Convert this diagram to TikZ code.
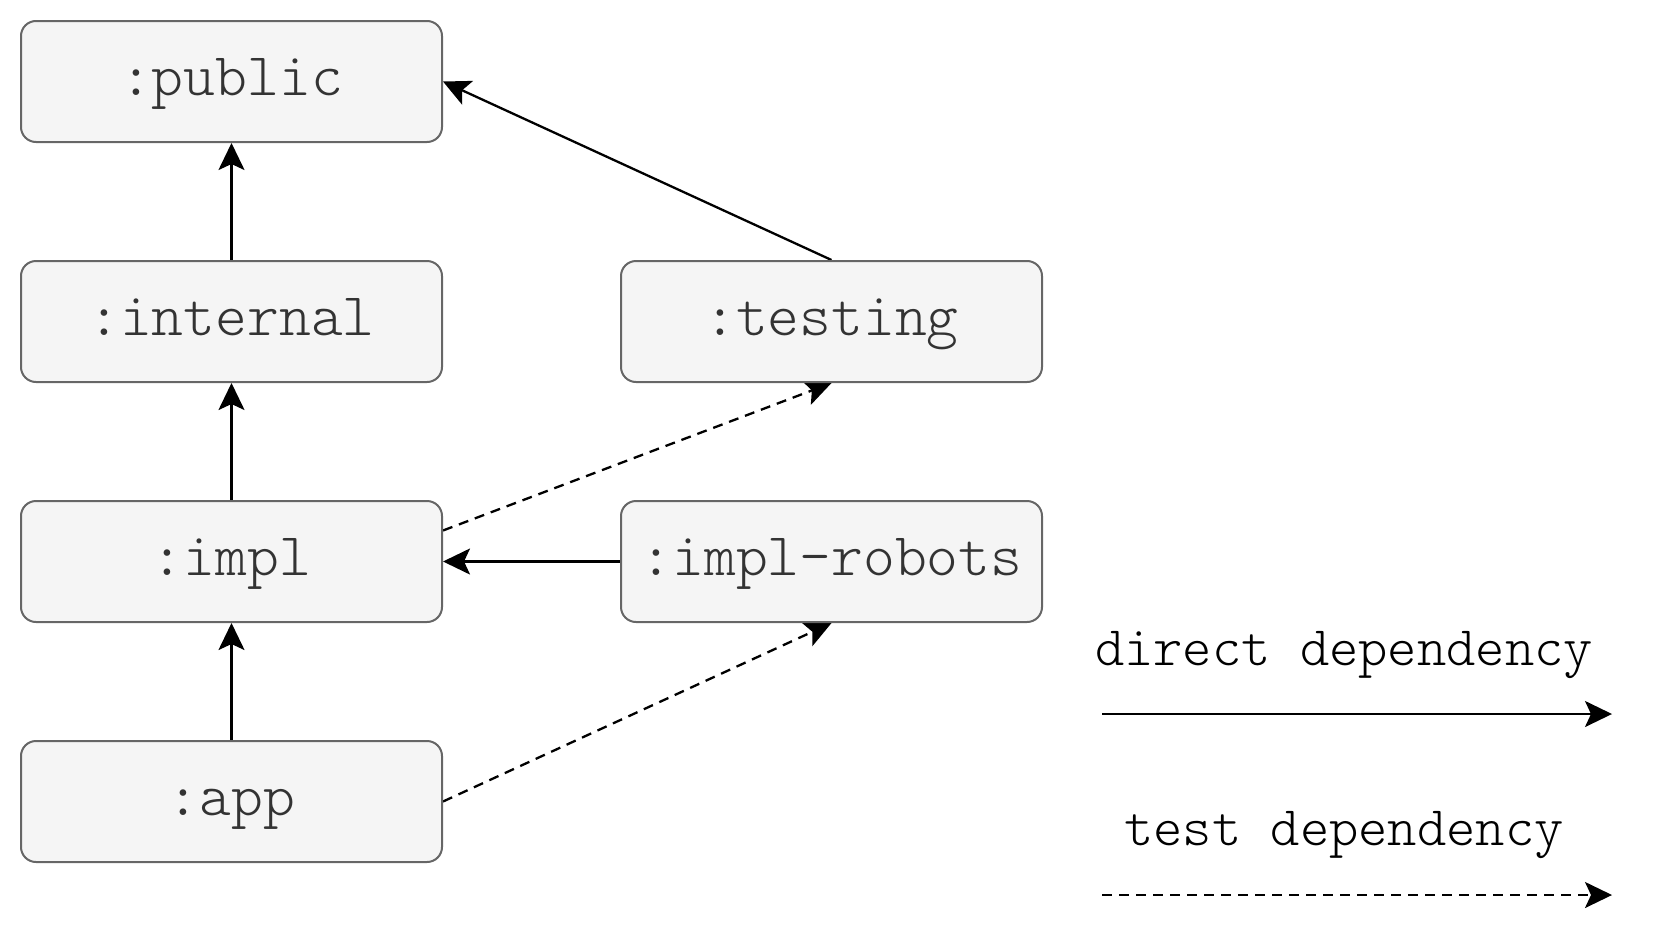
\documentclass[tikz,border=0pt]{standalone}
\usepackage{fontspec}
\newfontfamily\lightmono[Extension=.otf]{lmmonolt10-regular}
\usetikzlibrary{arrows.meta,backgrounds,calc}
\definecolor{boxfill}{HTML}{F5F5F5}
\definecolor{boxline}{HTML}{666666}
\definecolor{boxtext}{HTML}{333333}
\tikzset{
  module/.style={draw=boxline, fill=boxfill, line width=1pt, rounded corners=7.5pt,
    minimum width=210.5pt, minimum height=60.5pt, inner sep=0pt,
    text=boxtext, font=\lightmono\fontsize{30.3pt}{34pt}\selectfont,
    text height=19pt, text depth=5pt},
  legendtext/.style={font=\lightmono\fontsize{27.9pt}{32pt}\selectfont, text=black, inner sep=0pt, anchor=base},
  direct/.style={line width=1.15pt, -{Stealth[length=13.5pt, width=13pt, inset=3pt]}},
  testdep/.style={direct, dash pattern=on 5pt off 3.5pt}
}
\begin{document}
\begin{tikzpicture}[x=0.5pt, y=-0.5pt]
\useasboundingbox (0,0) rectangle (1657,937);
\node[module] (public)   at (231.5,81.5)  {:public};
\node[module] (internal) at (231.5,321.5) {:internal};
\node[module] (impl)     at (231.5,561.5) {:impl};
\node[module] (app)      at (231.5,801.5) {:app};
\node[module] (testing)  at (831.5,321.5) {:testing};
\node[module] (robots)   at (831.5,561.5) {:impl-robots};

\node[legendtext] (ldirect) at (1344,665) {direct dependency};
\node[legendtext] (ltest)   at (1344,845) {test dependency};
\coordinate (da) at (1102,714);
\coordinate (db) at (1612,714);
\coordinate (ta) at (1102,895);
\coordinate (tb) at (1612,895);
\coordinate (implout) at ($(impl.east)+(0,-31)$);

\begin{pgfonlayer}{background}
\draw[direct] (internal) -- (public);
\draw[direct] (impl) -- (internal);
\draw[direct] (app) -- (impl);
\draw[direct] (testing.north) -- (public.east);
\draw[direct] (robots) -- (impl);
\draw[testdep] (implout) -- (testing.south);
\draw[testdep] (app.east) -- (robots.south);
\end{pgfonlayer}

\draw[direct] (da) -- (db);
\draw[testdep] (ta) -- (tb);
\end{tikzpicture}
\end{document}
